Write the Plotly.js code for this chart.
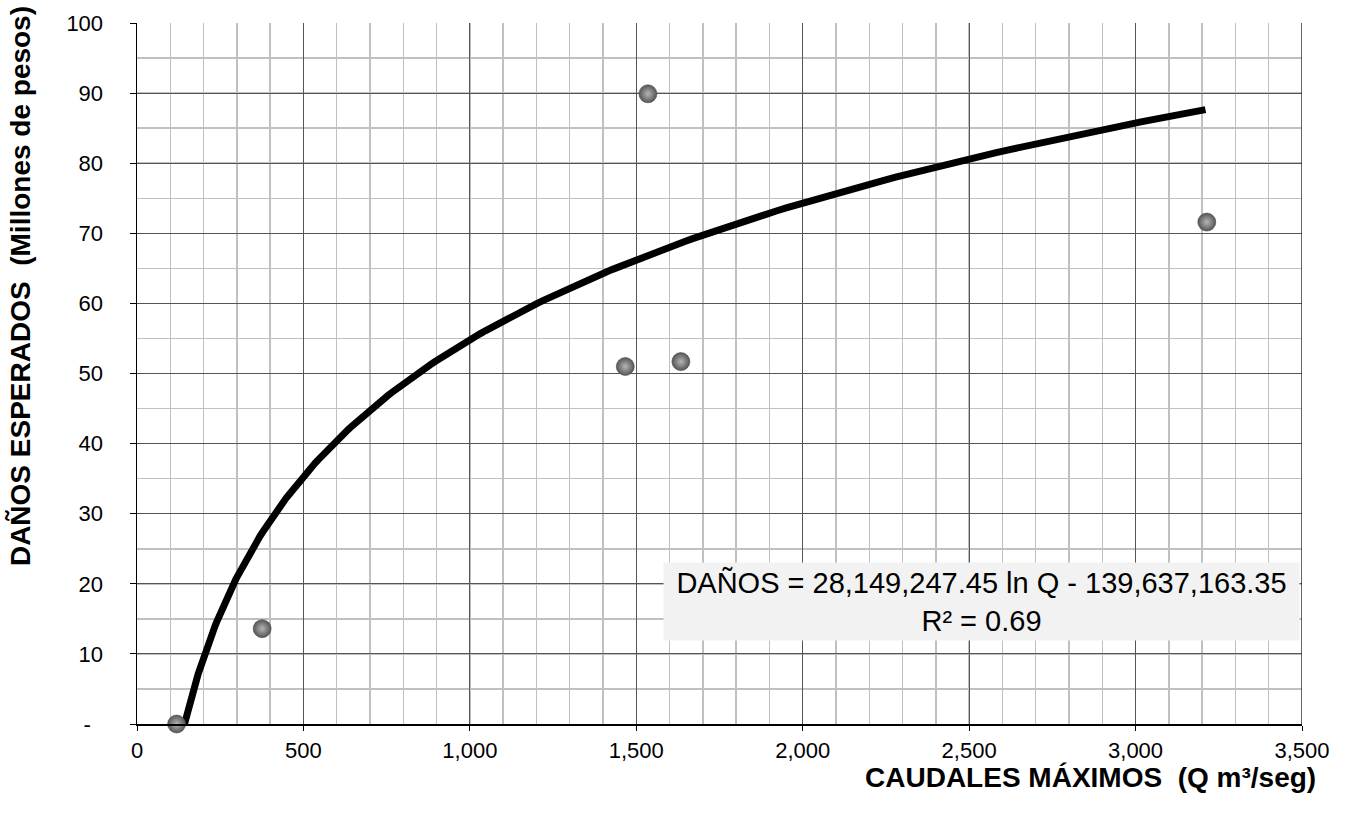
<!DOCTYPE html>
<html>
<head>
<meta charset="utf-8">
<script src="https://cdn.plot.ly/plotly-3.0.1.min.js"></script>
<style>html,body{margin:0;padding:0;background:#fff;}#chart{width:1349px;height:820px;}</style>
</head>
<body>
<div id="chart"></div>
<script>
// Observed data (Q in m3/seg, damages in millions of pesos)
const caudales = [119, 376, 1467, 1535, 1634, 3214];
const danos = [0, 13.6, 51.0, 89.9, 51.7, 71.6];

// Trendline coefficients as printed on the chart (pesos), converted to millions
const coefA = 28149247.45;
const coefB = -139637163.35;
const trendStart = 142.7;   // where the fitted curve meets zero
const trendEnd = 3210;

const xTickVals = [0, 500, 1000, 1500, 2000, 2500, 3000, 3500];
const xTickText = ['0', '500', '1,000', '1,500', '2,000', '2,500', '3,000', '3,500'];
const yTickVals = [0, 10, 20, 30, 40, 50, 60, 70, 80, 90, 100];
const yTickText = ['-\u00a0\u00a0', '10', '20', '30', '40', '50', '60', '70', '80', '90', '100'];

const trendX = [];
const trendY = [];
const steps = 200;
for (let i = 0; i <= steps; i++) {
  const q = trendStart * Math.pow(trendEnd / trendStart, i / steps);
  trendX.push(q);
  trendY.push((coefA * Math.log(q) + coefB) / 1e6);
}

const font = 'Liberation Sans, Arial, sans-serif';

const data = [
  {
    x: trendX, y: trendY, type: 'scatter', mode: 'lines',
    line: {color: '#000', width: 7}, hoverinfo: 'skip', showlegend: false
  },
  {
    x: caudales, y: danos, type: 'scatter', mode: 'markers',
    marker: {size: 18, color: '#555555', line: {width: 0.6, color: '#4a4a4a'},
      gradient: {type: 'radial', color: '#b5b5b5'}},
    showlegend: false, cliponaxis: false
  }
];

const layout = {
  width: 1349, height: 820,
  margin: {l: 137, r: 47, t: 23, b: 96},
  paper_bgcolor: '#fff', plot_bgcolor: '#fff',
  font: {family: font, size: 22, color: '#000'},
  showlegend: false,
  xaxis: {
    range: [0, 3500], tickvals: xTickVals, ticktext: xTickText,
    showgrid: true, gridcolor: '#555', gridwidth: 1,
    minor: {dtick: 100, tick0: 0, showgrid: true, gridcolor: '#c0c0c0', gridwidth: 1.5},
    showline: true, linecolor: '#000', linewidth: 1.5, mirror: false,
    ticks: 'outside', ticklen: 5, tickcolor: '#000',
    zeroline: false, tickfont: {size: 22, family: font}, ticklabelstandoff: 1
  },
  yaxis: {
    range: [0, 100], tickvals: yTickVals, ticktext: yTickText,
    showgrid: true, gridcolor: '#555', gridwidth: 1,
    minor: {dtick: 5, tick0: 0, showgrid: true, gridcolor: '#c0c0c0', gridwidth: 1.5},
    showline: true, linecolor: '#000', linewidth: 1.5,
    ticks: 'outside', ticklen: 6, tickcolor: '#000',
    zeroline: false, tickfont: {size: 22, family: font}, ticklabelstandoff: 22
  },
  shapes: [
    {type: 'line', xref: 'x', yref: 'paper', x0: 3500, x1: 3500, y0: 0, y1: 1,
     line: {color: '#333', width: 1.5}}
  ],
  annotations: [
    {
      xref: 'paper', yref: 'paper', x: 0.7249, y: 0.1743,
      xanchor: 'center', yanchor: 'middle', showarrow: false,
      text: 'DAÑOS = 28,149,247.45 ln Q - 139,637,163.35<br>R² = 0.69',
      font: {size: 29, family: font, color: '#000'},
      bgcolor: '#f2f2f2', borderpad: 3, width: 629, align: 'center'
    },
    {
      xref: 'paper', yref: 'paper', x: 1.0137, y: -0.077,
      xanchor: 'right', yanchor: 'middle', showarrow: false,
      text: '<b>CAUDALES MÁXIMOS  (Q m³/seg)</b>',
      font: {size: 28, family: font, color: '#000'}
    },
    {
      xref: 'paper', yref: 'paper', x: -0.1, y: 0.624,
      xanchor: 'center', yanchor: 'middle', showarrow: false, textangle: -90,
      text: '<b>DAÑOS ESPERADOS  (Millones de pesos)</b>',
      font: {size: 28, family: font, color: '#000'}
    }
  ]
};

Plotly.newPlot('chart', data, layout, {staticPlot: true});
</script>
</body>
</html>
